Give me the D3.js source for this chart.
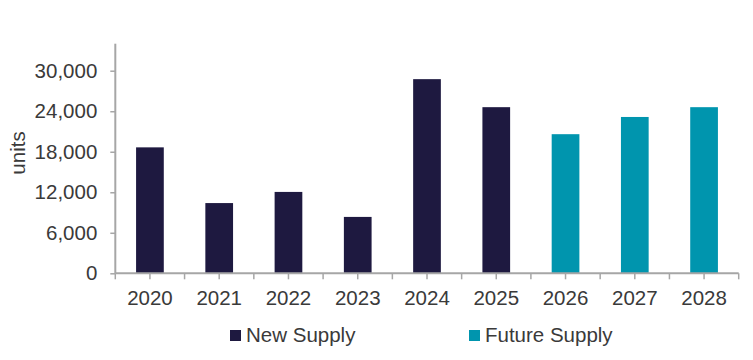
<!DOCTYPE html>
<html><head><meta charset="utf-8">
<script src="https://cdn.jsdelivr.net/npm/d3@7"></script>
<style>body{margin:0;background:#fff}svg{display:block}text{font-family:"Liberation Sans",Arial,sans-serif;fill:#3a3a3a}</style>
</head><body>
<script>
const years = ["2020","2021","2022","2023","2024","2025","2026","2027","2028"];
const newSupply = [18650, 10400, 12050, 8350, 28750, 24600, null, null, null];
const futureSupply = [null, null, null, null, null, null, 20600, 23150, 24600];
const yTicks = [0, 6000, 12000, 18000, 24000, 30000];
const seriesNames = ["New Supply", "Future Supply"];
const colors = ["#1e1940", "#0095ae"];

const W = 753, H = 360;
const svg = d3.select("body").append("svg").attr("width", W).attr("height", H);
const x0 = 115.3, x1 = 738.7, yBase = 273.3, yTop = 43.7;
const x = d3.scaleBand().domain(years).range([x0, x1]).padding(0);
const y = d3.scaleLinear().domain([0, 34000]).range([yBase, yTop]);
const barW = x.bandwidth() * 0.4;
const axisColor = "#a6a6a6";
const fs = "20.5px";

const data = [];
years.forEach((yr, i) => {
  if (newSupply[i] != null) data.push({yr, v: newSupply[i], s: 0});
  if (futureSupply[i] != null) data.push({yr, v: futureSupply[i], s: 1});
});
svg.selectAll("rect.bar").data(data).enter().append("rect")
  .attr("x", d => x(d.yr) + (x.bandwidth() - barW) / 2)
  .attr("y", d => y(d.v))
  .attr("width", barW)
  .attr("height", d => yBase - y(d.v))
  .attr("fill", d => colors[d.s]);

// Y axis
const yAxis = svg.append("g").attr("transform", `translate(${x0},0)`)
  .call(d3.axisLeft(y).tickValues(yTicks).tickFormat(d3.format(",")).tickSize(5).tickPadding(13).tickSizeOuter(0));
yAxis.select(".domain").remove();
yAxis.selectAll(".tick line").attr("stroke", axisColor).attr("stroke-width", 1.5);
yAxis.selectAll(".tick text").style("font-size", fs).attr("fill", "#3a3a3a");
svg.append("line").attr("x1", x0).attr("x2", x0).attr("y1", yTop).attr("y2", yBase)
  .attr("stroke", axisColor).attr("stroke-width", 2);

// X axis
svg.append("line").attr("x1", x0).attr("x2", x1).attr("y1", yBase).attr("y2", yBase)
  .attr("stroke", axisColor).attr("stroke-width", 2);
const tickXs = [];
years.forEach(yr => { tickXs.push(x(yr)); tickXs.push(x(yr) + x.bandwidth() / 2); });
tickXs.push(x1);
svg.selectAll("line.xt").data(tickXs).enter().append("line")
  .attr("x1", d => d).attr("x2", d => d).attr("y1", yBase).attr("y2", yBase + 6)
  .attr("stroke", axisColor).attr("stroke-width", 1.5);
svg.selectAll("text.xl").data(years).enter().append("text")
  .attr("x", d => x(d) + x.bandwidth() / 2).attr("y", 305)
  .attr("text-anchor", "middle").style("font-size", fs).text(d => d);

// Y title
svg.append("text").attr("transform", "translate(25,153) rotate(-90)")
  .attr("text-anchor", "middle").style("font-size", fs).text("units");

// Legend
const legX = [230, 469];
const lg = svg.selectAll("g.leg").data(seriesNames).enter().append("g")
  .attr("transform", (d, i) => `translate(${legX[i]},330)`);
lg.append("rect").attr("width", 11).attr("height", 11).attr("fill", (d, i) => colors[i]);
lg.append("text").attr("x", 16).attr("y", 11.5).style("font-size", fs).text(d => d);
</script>
</body></html>
